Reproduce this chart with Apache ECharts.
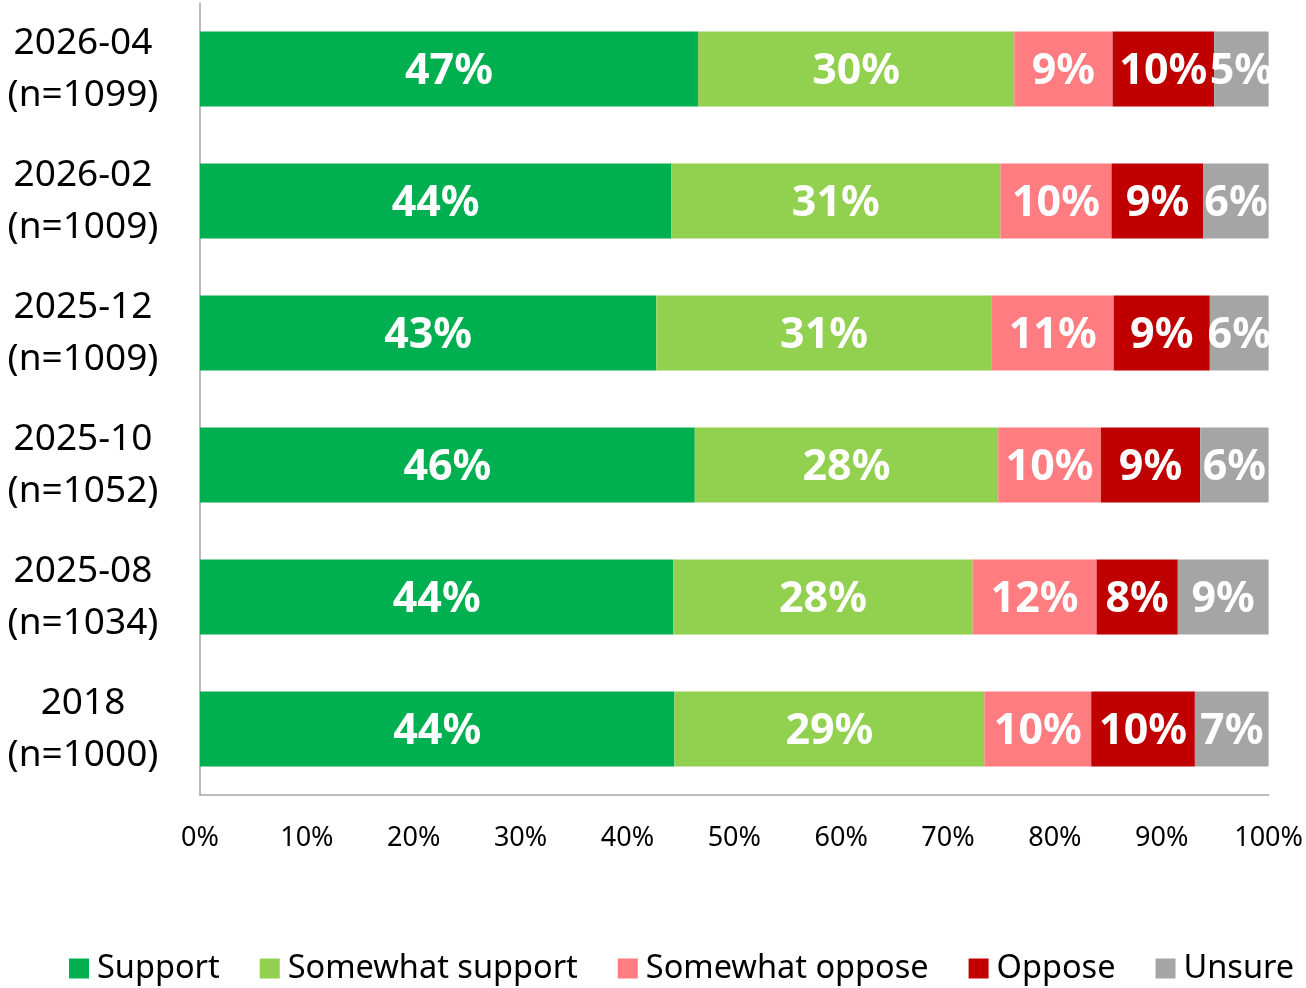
<!DOCTYPE html>
<html>
<head>
<meta charset="utf-8">
<script src="https://cdn.jsdelivr.net/npm/echarts@6/dist/echarts.min.js"></script>
<style>html,body{margin:0;padding:0;background:#fff}#c{width:1306px;height:988px}</style>
</head>
<body>
<div id="c"></div>
<script>
const categories = ["2026-04\n(n=1099)", "2026-02\n(n=1009)", "2025-12\n(n=1009)", "2025-10\n(n=1052)", "2025-08\n(n=1034)", "2018\n(n=1000)"];
const support = [46.6, 44.1, 42.7, 46.3, 44.3, 44.4];
const somewhatSupport = [29.6, 30.8, 31.4, 28.4, 28.0, 29.0];
const somewhatOppose = [9.2, 10.4, 11.4, 9.6, 11.6, 10.0];
const oppose = [9.5, 8.6, 9.0, 9.3, 7.6, 9.7];
const unsure = [5.1, 6.1, 5.5, 6.4, 8.5, 6.9];
const xTicks = [0, 10, 20, 30, 40, 50, 60, 70, 80, 90, 100];

const FONT = '"Noto Sans", "Open Sans", sans-serif';
const seriesDefs = [
  ["Support", support, "#00B050"],
  ["Somewhat support", somewhatSupport, "#92D050"],
  ["Somewhat oppose", somewhatOppose, "#FF7C80"],
  ["Oppose", oppose, "#C00000"],
  ["Unsure", unsure, "#A5A5A5"]
];

const chart = echarts.init(document.getElementById('c'), null, {renderer: 'canvas'});
chart.setOption({
  animation: false,
  grid: {left: 200, right: 35, top: 3, bottom: 193, containLabel: false},
  legend: {
    bottom: -2, left: 64,
    itemWidth: 20, itemHeight: 20, itemGap: 40,
    icon: 'rect',
    textStyle: {fontFamily: FONT, fontSize: 32.5, color: '#000', padding: [0, 0, 0, 3]},
    data: seriesDefs.map(d => d[0])
  },
  xAxis: {
    type: 'value', min: xTicks[0], max: xTicks[xTicks.length - 1], interval: 10,
    axisLine: {show: true, lineStyle: {color: '#A6A6A6', width: 1.5}},
    axisTick: {show: false},
    splitLine: {show: false},
    axisLabel: {formatter: '{value}%', fontFamily: FONT, fontSize: 27, color: '#000', margin: 30}
  },
  yAxis: {
    type: 'category', data: categories, inverse: true,
    axisLine: {show: true, lineStyle: {color: '#A6A6A6', width: 1.5}},
    axisTick: {show: false},
    axisLabel: {fontFamily: FONT, fontSize: 37, color: '#000', align: 'center', margin: 117, lineHeight: 52}
  },
  series: seriesDefs.map(d => ({
    name: d[0], type: 'bar', stack: 'total', data: d[1],
    barCategoryGap: '43%',
    itemStyle: {color: d[2]},
    label: {
      show: true, position: 'inside', color: '#fff', fontFamily: FONT, fontWeight: 'bold', fontSize: 43,
      offset: [0, 3],
      formatter: p => Math.round(p.value) + '%'
    }
  }))
});
</script>
</body>
</html>
